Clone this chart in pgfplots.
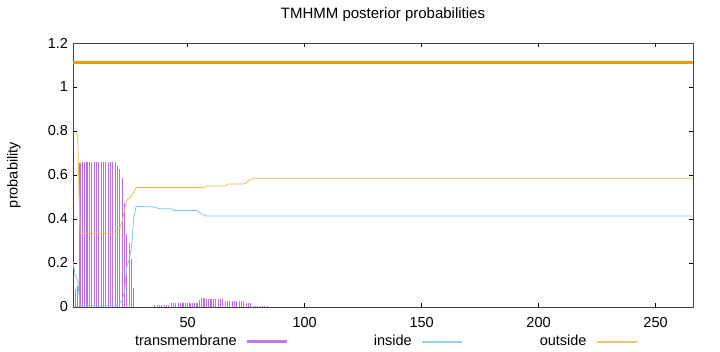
\documentclass[border=0pt]{standalone}
\usepackage{pgfplots}
\pgfplotsset{compat=1.18}
\usepackage{fontspec}
\setmainfont{Liberation Sans}
\definecolor{tmcol}{RGB}{195,105,235}
\definecolor{incol}{RGB}{125,200,238}
\definecolor{outcol}{RGB}{240,185,70}
\definecolor{predcol}{RGB}{230,160,0}
\definecolor{tmleg}{RGB}{190,120,232}
\definecolor{inleg}{RGB}{150,208,238}
\definecolor{outleg}{RGB}{240,196,110}
\newcommand{\chartfont}{\fontsize{14.5}{17}\selectfont}
\begin{document}
\chartfont
\begin{tikzpicture}
\useasboundingbox (-73pt,-45pt) rectangle (647pt,307pt);
\begin{axis}[
  at={(0pt,0pt)}, anchor=south west,
  scale only axis, width=620pt, height=264pt,
  xmin=1, xmax=266, ymin=0, ymax=1.2,
  xtick={50,100,150,200,250},
  ytick={0,0.2,0.4,0.6,0.8,1,1.2},
  /pgf/number format/.cd, fixed, precision=1, assume math mode=true, /pgfplots/.cd,
  tick align=inside,
  major tick length=4pt,
  tick style={black, line width=0.6pt},
  axis line style={black!75, line width=0.9pt},
  tick label style={font=\chartfont},
  xticklabel style={yshift=-5pt},
  title={TMHMM posterior probabilities},
  title style={font=\fontsize{15}{18}\selectfont, at={(0.5,1)}, anchor=center, yshift=22pt},
  ylabel={probability},
  every axis y label/.style={at={(axis description cs:0,0.5)}, rotate=90, anchor=center, yshift=59pt, font=\chartfont},
  legend columns=3,
  legend plot pos=right,
  legend style={at={(0.4895,-0.1307)}, anchor=center, draw=none, fill=none,
    font=\chartfont, nodes={inner sep=0pt},
    /tikz/every odd column/.append style={column sep=10pt},
    /tikz/every even column/.append style={column sep=5pt}},
]
\addplot[ycomb, tmcol, line width=1.1pt,
  legend image code/.code={\fill[tmleg] (0pt,-0.55pt) rectangle (39pt,0.55pt);}]
  coordinates {
  (2,0.08) (3,0.095) (4,0.653)
  (5,0.66) (6,0.66) (7,0.66) (8,0.66) (9,0.66) (10,0.66) (11,0.66) (12,0.66)
  (13,0.66) (14,0.66) (15,0.66) (16,0.66) (17,0.66) (18,0.66) (19,0.66)
  (20,0.64) (21,0.626) (22,0.585) (23,0.474) (24,0.33) (25,0.29) (26,0.217) (27,0.085)
  (36,0.008) (37,0.008) (38,0.008) (39,0.008) (40,0.008) (41,0.008) (42,0.008)
  (43,0.017) (44,0.017) (45,0.017) (46,0.017) (47,0.017) (48,0.017) (49,0.017)
  (50,0.017) (51,0.017) (52,0.017) (53,0.017) (54,0.017)
  (55,0.03) (56,0.04) (57,0.04)
  (58,0.036) (59,0.036) (60,0.036) (61,0.036) (62,0.036) (63,0.036) (64,0.036) (65,0.036)
  (66,0.027) (67,0.027) (68,0.027) (69,0.027) (70,0.027) (71,0.027) (72,0.027) (73,0.027) (74,0.027)
  (75,0.017) (76,0.017) (77,0.017)
  (78,0.003) (79,0.003) (80,0.003) (81,0.003) (82,0.003) (83,0.003) (84,0.003)
  };
\addlegendentry{\makebox[120pt][r]{transmembrane}}
\addplot[incol, line width=0.8pt,
  legend image code/.code={\fill[inleg] (0pt,-0.55pt) rectangle (39pt,0.55pt);}]
  coordinates {
  (1,0.206) (2,0.138) (3,0.123) (4,0.012) (5,0.006) (19,0.006) (20,0.012)
  (21,0.018) (22,0.03) (23,0.07) (24,0.185) (25,0.215) (26,0.27) (27,0.41)
  (28,0.457) (35,0.455) (38,0.447) (43,0.447) (44,0.438) (54,0.438)
  (57,0.417) (58,0.414) (266,0.414)
  };
\addlegendentry{\makebox[120pt][r]{inside}}
\addplot[outcol, line width=0.8pt,
  legend image code/.code={\fill[outleg] (0pt,-0.55pt) rectangle (39pt,0.55pt);}]
  coordinates {
  (1,0.786) (3,0.786) (4,0.335) (19,0.335) (20,0.345) (21,0.358) (22,0.39)
  (23,0.44) (24,0.486) (25,0.495) (26,0.503) (27,0.525) (28,0.543) (57,0.543)
  (58,0.55) (66,0.55) (67,0.559) (74,0.559) (75,0.565) (76,0.575) (77,0.58)
  (78,0.585) (266,0.585)
  };
\addlegendentry{\makebox[120pt][r]{outside}}
\addplot[predcol, line width=3pt, forget plot] coordinates {(1,1.11) (266,1.11)};
\end{axis}
\end{tikzpicture}
\end{document}
